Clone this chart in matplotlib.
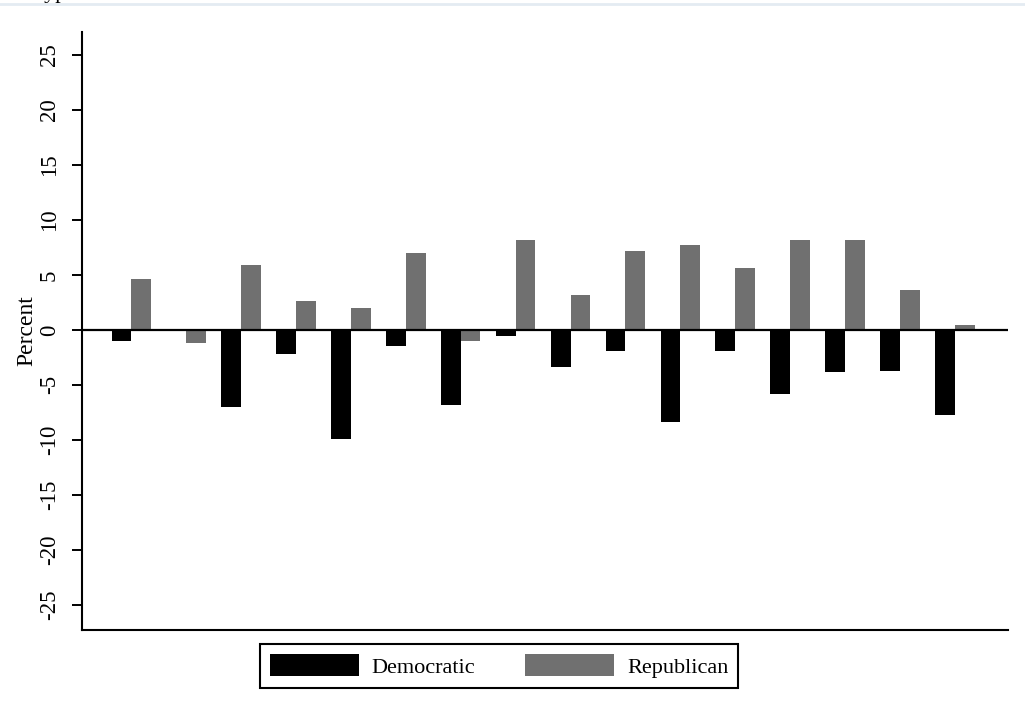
import numpy as np
import matplotlib
matplotlib.use("Agg")
import matplotlib.pyplot as plt
from matplotlib.lines import Line2D

plt.rcParams['font.family'] = ['Liberation Serif', 'DejaVu Serif']

# change in vote share by group, in percent
dem = [-1.0, 0.0, -7.0, -2.2, -9.9, -1.5, -6.8, -0.6, -3.4, -1.9, -8.4, -1.9, -5.8, -3.8, -3.7, -7.7]
rep = [4.6, -1.2, 5.9, 2.6, 2.0, 7.0, -1.0, 8.2, 3.2, 7.2, 7.7, 5.6, 8.2, 8.2, 3.6, 0.4]
yticks = [-25, -20, -15, -10, -5, 0, 5, 10, 15, 20, 25]

x = np.arange(len(dem))
w = 0.36

fig = plt.figure(figsize=(10.25, 7.19), dpi=100)
ax = fig.add_axes([0.08, 0.1238, 0.9034, 0.8317])

ax.bar(x - w/2, dem, width=w, color='black', label='Democratic', zorder=2)
ax.bar(x + w/2, rep, width=w, color='#707070', label='Republican', zorder=2)
ax.axhline(0, color='black', lw=1.6, zorder=3)

ax.set_xlim(-0.9, 15.97)
ax.set_ylim(-27.3, 27.1)
ax.set_xticks([])
ax.set_yticks(yticks)
ax.set_yticklabels([str(t) for t in yticks], rotation=90, va='center', fontsize=16.5)
ax.tick_params(axis='y', direction='out', length=7, width=1.4, pad=9)
ax.set_ylabel('Percent', fontsize=17, labelpad=1)

for s in ['top', 'right']:
    ax.spines[s].set_visible(False)
for s in ['left', 'bottom']:
    ax.spines[s].set_linewidth(1.5)

leg = fig.legend(loc='center', bbox_to_anchor=(499/1025, 1 - 666/719), ncol=2,
                 fontsize=16, handlelength=4.0, handleheight=1.13, handletextpad=0.58,
                 columnspacing=2.25, borderpad=0.45, fancybox=False, framealpha=1,
                 edgecolor='black')
leg.get_frame().set_linewidth(1.5)

# header strip cut off at the top edge
fig.add_artist(Line2D([0, 1], [1 - 3.5/719, 1 - 3.5/719], color='#e4ebf2', lw=2))
fig.text(33/1025, 1 + 2/719, 'Type', fontsize=16, va='baseline', ha='left')

fig.savefig('out.png', dpi=100)
